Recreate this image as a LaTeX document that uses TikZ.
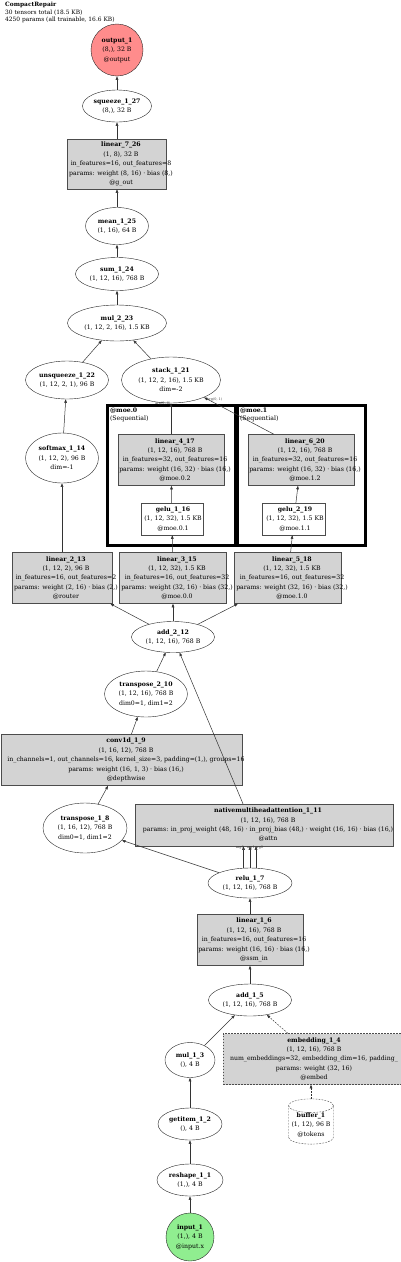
\documentclass[tikz,border=0pt]{standalone}
\usepackage{fontspec}
\setmainfont{DejaVu Serif}
\usetikzlibrary{arrows.meta,positioning,shapes.geometric}

\definecolor{outred}{RGB}{255,140,140}
\definecolor{ingreen}{RGB}{144,238,144}
\definecolor{boxgray}{RGB}{211,211,211}

\begin{document}
\begin{tikzpicture}[x=1pt, y=-1pt,
    every node/.style={font=\fontsize{6.2}{9.4}\selectfont},
    sz/.style 2 args={minimum width=#1, minimum height=#2},
    op/.style={draw=black!85, ellipse, inner sep=0pt, align=center, fill=white},
    io/.style={draw=black!85, circle, inner sep=0pt, align=center},
    opbox/.style={draw=black!70, rectangle, fill=boxgray, inner sep=0pt},
    dots/.style={dash pattern=on 1.8pt off 1.2pt},
    boxtxt/.style={align=center, inner sep=0pt, xshift=4pt},
    edge/.style={-{Triangle[length=3.6pt,width=2.6pt]}, black!80, line width=0.5pt},
    argl/.style={font=\fontsize{3.4}{4}\selectfont, inner sep=0pt},
    grp/.style={draw, line width=2.4pt, inner sep=0pt},
    grplab/.style={align=left, anchor=north west, inner sep=0pt},
    hdr/.style={align=left, anchor=north west, inner sep=0pt,
      font=\fontsize{5.9}{7.4}\selectfont}
  ]
  \useasboundingbox (0,0) rectangle (400,1262);

  % header
  \node[hdr] (title) at (5,2) {\textbf{CompactRepair}\\30 tensors total (18.5 KB)\\4250 params (all trainable, 16.6 KB)};

  % head of the graph
  \node[io, fill=outred, minimum size=52] (output_1) at (117,50)
    {\textbf{output\_1}\\(8,), 32 B\\@output};
  \node[op, sz={69}{32}] (squeeze_1_27) at (117,106)
    {\textbf{squeeze\_1\_27}\\(8,), 32 B};
  \node[opbox, sz={99}{50}, label={[boxtxt]center:{\textbf{linear\_7\_26}\\(1, 8), 32 B\\in\_features=16, out\_features=8\\params: weight (8, 16) · bias (8,)\\@g\_out}}] (linear_7_26) at (117,164) {};
  \node[op, sz={63}{37}] (mean_1_25) at (117,226)
    {\textbf{mean\_1\_25}\\(1, 16), 64 B};
  \node[op, sz={83}{33}] (sum_1_24) at (117,274)
    {\textbf{sum\_1\_24}\\(1, 12, 16), 768 B};
  \node[op, sz={99}{36}] (mul_2_23) at (117,323)
    {\textbf{mul\_2\_23}\\(1, 12, 2, 16), 1.5 KB};
  \node[op, sz={83}{38}] (unsqueeze_1_22) at (67,380)
    {\textbf{unsqueeze\_1\_22}\\(1, 12, 2, 1), 96 B};
  \node[op, sz={99}{46}] (stack_1_21) at (171,380)
    {\textbf{stack\_1\_21}\\(1, 12, 2, 16), 1.5 KB\\dim=-2};
  \node[op, sz={73}{50}] (softmax_1_14) at (62,458)
    {\textbf{softmax\_1\_14}\\(1, 12, 2), 96 B\\dim=-1};

  % experts
  \node[grp, sz={127}{139}] (moe0) at (171.5,475.5) {};
  \node[grplab] (moe0_lab) at ([shift={(3,3)}]moe0.north west) {\textbf{@moe.0}\\[-2pt](Sequential)};
  \node[grp, sz={127}{139}] (moe1) at (301.5,475.5) {};
  \node[grplab] (moe1_lab) at ([shift={(3,3)}]moe1.north west) {\textbf{@moe.1}\\[-2pt](Sequential)};

  \node[opbox, sz={106}{51}, label={[boxtxt]center:{\textbf{linear\_4\_17}\\(1, 12, 16), 768 B\\in\_features=32, out\_features=16\\params: weight (16, 32) · bias (16,)\\@moe.0.2}}] (linear_4_17) at (171,460) {};
  \node[opbox, fill=white, sz={62}{32}, label={[boxtxt, xshift=-3pt]center:{\textbf{gelu\_1\_16}\\(1, 12, 32), 1.5 KB\\@moe.0.1}}] (gelu_1_16) at (172,519) {};
  \node[opbox, sz={106}{51}, label={[boxtxt]center:{\textbf{linear\_6\_20}\\(1, 12, 16), 768 B\\in\_features=32, out\_features=16\\params: weight (16, 32) · bias (16,)\\@moe.1.2}}] (linear_6_20) at (301,460) {};
  \node[opbox, fill=white, sz={63}{32}, label={[boxtxt, xshift=-3pt]center:{\textbf{gelu\_2\_19}\\(1, 12, 32), 1.5 KB\\@moe.1.1}}] (gelu_2_19) at (294,519) {};
  % redraw the frames on top of overflowing text
  \draw[line width=2.4pt] (moe0.north west) rectangle (moe0.south east);
  \draw[line width=2.4pt] (moe1.north west) rectangle (moe1.south east);

  \node[opbox, sz={100}{51}, label={[boxtxt]center:{\textbf{linear\_2\_13}\\(1, 12, 2), 96 B\\in\_features=16, out\_features=2\\params: weight (2, 16) · bias (2,)\\@router}}] (linear_2_13) at (62,578) {};
  \node[opbox, sz={107}{51}, label={[boxtxt]center:{\textbf{linear\_3\_15}\\(1, 12, 32), 1.5 KB\\in\_features=16, out\_features=32\\params: weight (32, 16) · bias (32,)\\@moe.0.0}}] (linear_3_15) at (173,578) {};
  \node[opbox, sz={107}{51}, label={[boxtxt]center:{\textbf{linear\_5\_18}\\(1, 12, 32), 1.5 KB\\in\_features=16, out\_features=32\\params: weight (32, 16) · bias (32,)\\@moe.1.0}}] (linear_5_18) at (288,578) {};

  % trunk
  \node[op, sz={83}{31}] (add_2_12) at (173,637)
    {\textbf{add\_2\_12}\\(1, 12, 16), 768 B};
  \node[op, sz={83}{46}] (transpose_2_10) at (146,694)
    {\textbf{transpose\_2\_10}\\(1, 12, 16), 768 B\\dim0=1, dim1=2};
  \node[opbox, sz={241}{51}, label={[boxtxt]center:{\textbf{conv1d\_1\_9}\\(1, 16, 12), 768 B\\in\_channels=1, out\_channels=16, kernel\_size=3, padding=(1,), groups=16\\params: weight (16, 1, 3) · bias (16,)\\@depthwise}}] (conv1d_1_9) at (122,760) {};
  \node[op, sz={84}{50}] (transpose_1_8) at (85,828)
    {\textbf{transpose\_1\_8}\\(1, 16, 12), 768 B\\dim0=1, dim1=2};
  \node[opbox, sz={258}{42}, label={[boxtxt]center:{\textbf{nativemultiheadattention\_1\_11}\\(1, 12, 16), 768 B\\params: in\_proj\_weight (48, 16) · in\_proj\_bias (48,) · weight (16, 16) · bias (16,)\\@attn}}] (attn_1_11) at (264,825) {};
  \node[op, sz={84}{30}] (relu_1_7) at (250,883)
    {\textbf{relu\_1\_7}\\(1, 12, 16), 768 B};
  \node[opbox, sz={106}{51}, label={[boxtxt]center:{\textbf{linear\_1\_6}\\(1, 12, 16), 768 B\\in\_features=16, out\_features=16\\params: weight (16, 16) · bias (16,)\\@ssm\_in}}] (linear_1_6) at (250,940) {};
  \node[op, sz={83}{32}] (add_1_5) at (250,1000)
    {\textbf{add\_1\_5}\\(1, 12, 16), 768 B};
  \node[op, sz={50}{35}] (mul_1_3) at (190,1060)
    {\textbf{mul\_1\_3}\\(), 4 B};
  \node[opbox, dots, sz={188}{51}, label={[boxtxt, xshift=-7pt]center:{\textbf{embedding\_1\_4}\\(1, 12, 16), 768 B\\num\_embeddings=32, embedding\_dim=16, padding\_\\params: weight (32, 16)\\@embed}}] (embedding_1_4) at (317,1059) {};
  \node[draw=black!70, dots, cylinder, shape border rotate=90, aspect=0.35, inner sep=0pt,
    sz={45}{43}, align=center] (buffer_1) at (311,1125)
    {\textbf{buffer\_1}\\(1, 12), 96 B\\@tokens};
  \node[op, sz={64}{32}] (getitem_1_2) at (190,1124)
    {\textbf{getitem\_1\_2}\\(), 4 B};
  \node[op, sz={66}{32}] (reshape_1_1) at (190,1180)
    {\textbf{reshape\_1\_1}\\(1,), 4 B};
  \node[io, fill=ingreen, minimum size=48] (input_1) at (190,1237)
    {\textbf{input\_1}\\(1,), 4 B\\@input.x};

  % connectors
  \draw[edge] (squeeze_1_27) -- (output_1);
  \draw[edge] (linear_7_26) -- (squeeze_1_27);
  \draw[edge] (mean_1_25) -- (linear_7_26);
  \draw[edge] (sum_1_24) -- (mean_1_25);
  \draw[edge] (mul_2_23) -- (sum_1_24);
  \draw[edge] (unsqueeze_1_22) -- (mul_2_23);
  \draw[edge] (stack_1_21) -- (mul_2_23);
  \draw[edge] (softmax_1_14) -- (unsqueeze_1_22);
  \draw[edge] (linear_2_13) -- (softmax_1_14);
  \draw[edge] (linear_4_17) -- (stack_1_21)
    node[argl, at end, anchor=east, xshift=-0.5pt, yshift=-0.2pt] {arg(0, 0)};
  \draw[edge] ([xshift=-27pt]linear_6_20.north) -- (stack_1_21)
    node[argl, at end, anchor=north west, xshift=3pt, yshift=-0.5pt] {arg(0, 1)};
  \draw[edge] (gelu_1_16) -- (linear_4_17);
  \draw[edge] (gelu_2_19) -- (linear_6_20);
  \draw[edge] (linear_3_15) -- (gelu_1_16);
  \draw[edge] (linear_5_18) -- (gelu_2_19);
  \draw[edge] (add_2_12) -- (linear_2_13);
  \draw[edge] (add_2_12) -- (linear_3_15);
  \draw[edge] (add_2_12) -- (linear_5_18);
  \draw[edge] (transpose_2_10) -- (add_2_12);
  \draw[edge] ([xshift=-21pt]attn_1_11.north) -- (add_2_12);
  \draw[edge] (conv1d_1_9) -- (transpose_2_10);
  \draw[edge] (transpose_1_8) -- (conv1d_1_9);
  \draw[edge] (relu_1_7) -- (transpose_1_8);
  \draw[edge] ([xshift=-6.5pt]relu_1_7.north) -- ([xshift=-6.5pt]relu_1_7.north |- attn_1_11.south)
    node[argl, at end, anchor=north east, xshift=0.5pt, yshift=0.4pt] {arg0};
  \draw[edge] (relu_1_7.north) -- (relu_1_7.north |- attn_1_11.south)
    node[argl, at end, anchor=north east, xshift=5pt, yshift=0.4pt] {arg1};
  \draw[edge] ([xshift=6pt]relu_1_7.north) -- ([xshift=6pt]relu_1_7.north |- attn_1_11.south)
    node[argl, at end, anchor=north west, xshift=-1pt, yshift=0.4pt] {arg2};
  \draw[edge] (linear_1_6) -- (relu_1_7);
  \draw[edge] (add_1_5) -- (linear_1_6);
  \draw[edge] (mul_1_3) -- (add_1_5);
  \draw[edge, dots] (embedding_1_4) -- (add_1_5);
  \draw[edge, dots] (buffer_1.north) -- (buffer_1.north |- embedding_1_4.south);
  \draw[edge] (getitem_1_2) -- (mul_1_3);
  \draw[edge] (reshape_1_1) -- (getitem_1_2);
  \draw[edge] (input_1) -- (reshape_1_1);
\end{tikzpicture}
\end{document}
